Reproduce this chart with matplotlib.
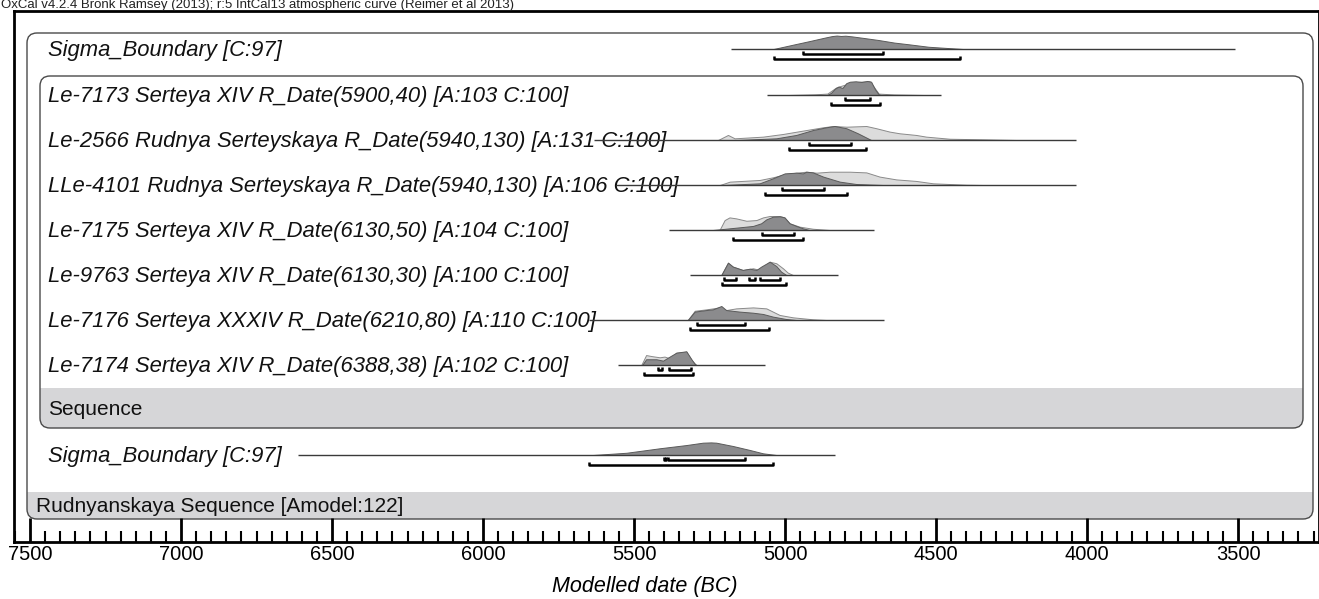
import numpy as np
import matplotlib.pyplot as plt
from matplotlib.patches import FancyBboxPatch, Rectangle
from matplotlib.ticker import MultipleLocator

plt.rcParams['font.family'] = ['Liberation Sans', 'DejaVu Sans']

header = "OxCal v4.2.4 Bronk Ramsey (2013); r:5 IntCal13 atmospheric curve (Reimer et al 2013)"

row_labels = [
    "Sigma_Boundary [C:97]",
    "Le-7173 Serteya XIV R_Date(5900,40) [A:103 C:100]",
    "Le-2566 Rudnya Serteyskaya R_Date(5940,130) [A:131 C:100]",
    "LLe-4101 Rudnya Serteyskaya R_Date(5940,130) [A:106 C:100]",
    "Le-7175 Serteya XIV R_Date(6130,50) [A:104 C:100]",
    "Le-9763 Serteya XIV R_Date(6130,30) [A:100 C:100]",
    "Le-7176 Serteya XXXIV R_Date(6210,80) [A:110 C:100]",
    "Le-7174 Serteya XIV R_Date(6388,38) [A:102 C:100]",
    "Sigma_Boundary [C:97]",
]

# full range line drawn under each distribution (years BC)
range_from = [5179, 5060, 5633, 5560, 5384, 5316, 5650, 5553, 6613]
range_to = [3510, 4484, 4036, 4036, 4704, 4825, 4671, 5068, 4836]

# start boundary
sb1_post_yr = [5038, 4969, 4918, 4867, 4845, 4829, 4815, 4800, 4778, 4740, 4690, 4639, 4588, 4525, 4461, 4411]
sb1_post = [0, .33, .57, .82, .92, .96, .93, .95, .90, .79, .64, .46, .33, .16, .07, 0]

# Le-7173
le7173_like_yr = [4990, 4900, 4860, 4830, 4800, 4780, 4750, 4720, 4705, 4690, 4640, 4540]
le7173_like = [0, .05, .1, .55, .75, .9, .95, .98, .55, .1, .04, 0]
le7173_post_yr = [4861, 4848, 4835, 4823, 4810, 4797, 4785, 4766, 4747, 4728, 4715, 4702, 4690, 4683]
le7173_post = [0, .15, .45, .6, .5, .85, .95, .98, .93, 1.0, .95, .4, .05, 0]

# Le-2566
le2566_like_yr = [5222, 5189, 5167, 5073, 5007, 4930, 4874, 4841, 4797, 4731, 4698, 4654, 4621, 4566, 4533, 4455, 4345, 4235]
le2566_like = [0, .36, .12, .24, .43, .71, .91, 1.0, .95, 1.0, .84, .6, .48, .36, .24, .09, .05, 0]
le2566_post_yr = [5161, 5029, 4963, 4908, 4863, 4836, 4797, 4759, 4726, 4715]
le2566_post = [0, .12, .36, .71, .91, 1.0, .84, .48, .12, 0]

# LLe-4101
lle4101_like_yr = [5216, 5183, 5084, 5040, 4996, 4963, 4930, 4896, 4852, 4786, 4731, 4687, 4632, 4566, 4510, 4400, 4345]
lle4101_like = [0, .24, .36, .55, .79, .88, .95, .88, .95, .95, .9, .6, .4, .29, .12, .02, 0]
lle4101_post_yr = [5205, 5084, 5040, 5001, 4963, 4941, 4930, 4908, 4874, 4819, 4764, 4676]
lle4101_post = [0, .12, .48, .83, .88, .83, .95, .9, .6, .24, .07, 0]

# Le-7175
le7175_like_yr = [5217, 5200, 5184, 5162, 5128, 5095, 5073, 5051, 5018, 5002, 4985, 4952, 4908, 4853]
le7175_like = [0, .71, .9, .83, .66, .71, .9, 1.0, 1.0, .9, .48, .24, .09, 0]
le7175_post_yr = [5239, 5206, 5151, 5106, 5079, 5062, 5040, 5018, 5002, 4985, 4963, 4941, 4919]
le7175_post = [0, .07, .19, .29, .48, .76, .95, .98, .9, .48, .29, .12, 0]

# Le-9763
le9763_like_yr = [5211, 5189, 5173, 5140, 5106, 5084, 5051, 5029, 5007, 4991, 4974]
le9763_like = [0, .88, .6, .36, .48, .36, .95, .84, .48, .17, 0]
le9763_post_yr = [5211, 5189, 5173, 5140, 5117, 5095, 5079, 5051, 5029, 5013, 4996]
le9763_post = [0, .88, .6, .36, .45, .36, .6, .95, .64, .24, 0]

# Le-7176
le7176_like_yr = [5322, 5299, 5261, 5217, 5195, 5162, 5106, 5062, 5018, 4974, 4908, 4864]
le7176_like = [0, .66, .76, .9, .71, .83, .9, .83, .36, .19, .05, 0]
le7176_post_yr = [5322, 5299, 5261, 5239, 5211, 5195, 5151, 5106, 5073, 5040, 4996, 4963]
le7176_post = [0, .6, .71, .76, 1.0, .71, .6, .52, .43, .24, .07, 0]

# Le-7174
le7174_like_yr = [5476, 5460, 5443, 5415, 5399, 5382, 5360, 5327, 5310, 5294]
le7174_like = [0, .71, .64, .55, .6, .48, .88, .95, .36, 0]
le7174_post_yr = [5473, 5460, 5426, 5404, 5382, 5360, 5327, 5310, 5299, 5294]
le7174_post = [0, .41, .41, .31, .6, .88, .98, .41, .07, 0]

# end boundary
sb2_post_yr = [5636, 5525, 5415, 5327, 5272, 5245, 5228, 5172, 5117, 5073, 5029]
sb2_post = [0, .16, .48, .71, .88, .9, .88, .64, .36, .12, 0]

# highest posterior density ranges, 68.2% and 95.4%
hpd68 = [
    [(4941, 4677)],
    [(4801, 4718)],
    [(4921, 4783)],
    [(5009, 4872)],
    [(5076, 4969)],
    [(5203, 5164), (5120, 5101), (5082, 5018)],
    [(5292, 5134)],
    [(5421, 5406), (5384, 5310)],
    [(5402, 5395), (5388, 5134)],
]
hpd95 = [
    [(5038, 4421)],
    [(4848, 4687)],
    [(4988, 4733)],
    [(5067, 4794)],
    [(5173, 4939)],
    [(5208, 4997)],
    [(5316, 5053)],
    [(5468, 5305)],
    [(5649, 5040)],
]

likes = [None,
         (le7173_like_yr, le7173_like),
         (le2566_like_yr, le2566_like),
         (lle4101_like_yr, lle4101_like),
         (le7175_like_yr, le7175_like),
         (le9763_like_yr, le9763_like),
         (le7176_like_yr, le7176_like),
         (le7174_like_yr, le7174_like),
         None]
posts = [(sb1_post_yr, sb1_post),
         (le7173_post_yr, le7173_post),
         (le2566_post_yr, le2566_post),
         (lle4101_post_yr, lle4101_post),
         (le7175_post_yr, le7175_post),
         (le9763_post_yr, le9763_post),
         (le7176_post_yr, le7176_post),
         (le7174_post_yr, le7174_post),
         (sb2_post_yr, sb2_post)]

W, H = 1319, 599
row_y = [49, 95, 140, 185, 230, 275, 320, 365, 455]
amp = 14

fig = plt.figure(figsize=(W / 100, H / 100), dpi=100)

# page layer in pixel units: model boxes and row labels
bg = fig.add_axes([0, 0, 1, 1])
bg.set_xlim(0, W)
bg.set_ylim(H, 0)
bg.axis('off')


def model_box(x0, y0, x1, y1, band_top, label, lx, ly):
    band = FancyBboxPatch((x0, y0), x1 - x0, y1 - y0,
                          boxstyle='round,pad=0,rounding_size=10',
                          fc='#d6d6d8', ec='none')
    bg.add_patch(band)
    clip = Rectangle((0, band_top), W, H, transform=bg.transData)
    band.set_clip_path(clip)
    bg.add_patch(FancyBboxPatch((x0, y0), x1 - x0, y1 - y0,
                                boxstyle='round,pad=0,rounding_size=10',
                                fill=False, ec='#4a4a4a', lw=1))
    bg.text(lx, ly, label, fontsize=15, va='baseline', color='#111')


model_box(27, 33, 1313, 519, 492, "Rudnyanskaya Sequence [Amodel:122]", 36, 512)
model_box(40, 76, 1303, 428, 388, "Sequence", 48, 415)

for lab, y in zip(row_labels, row_y):
    bg.text(48, y + 7, lab, fontsize=15.8, style='italic', va='baseline', color='#111')

fig.text(1 / W, 1 - 8 / H, header, fontsize=9.5, va='baseline', color='#222')

# date axis
ax = fig.add_axes([14 / W, (H - 542) / H, (W - 14) / W, (542 - 11) / H])
ax.set_facecolor('none')
ax.set_xlim(7553, 3232)
ax.set_ylim(542, 11)

for i, y in enumerate(row_y):
    ax.hlines(y, range_from[i], range_to[i], color='#3a3a3a', lw=1.0, zorder=4)
    if likes[i] is not None:
        xs, ps = likes[i]
        ax.fill_between(xs, y, y - amp * np.array(ps), fc='#dcdcdc', ec='#8a8a8a', lw=0.7, zorder=2)
    xs, ps = posts[i]
    ax.fill_between(xs, y, y - amp * np.array(ps), fc='#8b8b8d', ec='#5a5a5a', lw=0.7, zorder=3)
    for off, ranges in ((4.5, hpd68[i]), (10, hpd95[i])):
        for a, b in ranges:
            ax.plot([a, a, b, b], [y + off - 3, y + off, y + off, y + off - 3],
                    color='black', lw=1.8, solid_capstyle='butt', zorder=5)

for s in ax.spines.values():
    s.set_linewidth(2)
    s.set_color('black')
ax.set_yticks([])
ax.xaxis.set_major_locator(MultipleLocator(500))
ax.xaxis.set_minor_locator(MultipleLocator(50))
ax.tick_params(axis='x', which='major', direction='in', length=17, width=2, pad=2, labelsize=14.5)
ax.tick_params(axis='x', which='minor', direction='in', length=8, width=1.5)
ax.set_xlabel('Modelled date (BC)', fontsize=15.5, style='italic')
ax.xaxis.set_label_coords((645 - 14) / (W - 14), -(576 - 542) / (542 - 11))

fig.savefig('out.png', dpi=100)
